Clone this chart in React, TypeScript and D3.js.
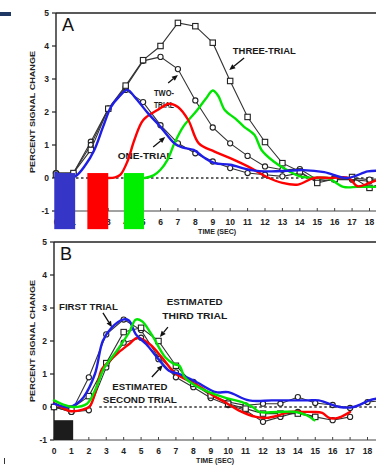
import React from "react";
import * as d3 from "d3";

// ---------- DATA ----------
const timeTicks = d3.range(0, 19);
const yTicks = [5, 4, 3, 2, 1, 0, -1];

// Panel A black series (t = 0..19)
const oneTrialA = [0.15, 0.15, 1.1, 2.1, 2.67, 2.3, 1.6, 1.05, 0.75, 0.5, 0.3, 0.15, 0.1, 0.05, 0.15, -0.1, -0.05, -0.05, -0.1, 0.0];
const twoTrialA = [0.15, 0.15, 1.0, 2.1, 2.75, 3.55, 3.67, 3.3, 2.35, 1.53, 1.05, 0.67, 0.35, 0.25, 0.27, -0.05, 0.0, 0.0, -0.05, 0.0];
const threeTrialA = [0.1, 0.15, 0.85, 2.1, 2.8, 3.57, 4.0, 4.7, 4.6, 4.1, 2.94, 1.85, 1.09, 0.45, 0.2, -0.15, -0.03, 0.03, -0.3, -0.1];

// Panel A coloured overlay curves [time, value]
const blueA: [number, number][] = [[0, 0.15], [0.6, 0.05], [1.1, 0.05], [1.7, 0.4], [2.2, 0.85], [2.7, 1.55], [3.15, 2.15], [3.6, 2.45], [4.1, 2.67], [4.6, 2.4], [5.3, 1.95], [6.0, 1.55], [6.8, 1.05], [7.3, 0.92], [7.9, 0.85], [8.5, 0.62], [9.1, 0.45], [10.0, 0.4], [11.2, 0.24], [12.3, 0.2], [13.3, 0.22], [14.2, 0.24], [15.4, 0.18], [16.7, 0.0], [17.9, 0.2], [18.5, 0.22]];
const redA: [number, number][] = [[3.0, 0.0], [3.4, 0.02], [3.7, 0.1], [4.1, 0.5], [4.5, 1.15], [5.0, 1.75], [5.8, 2.05], [6.5, 2.25], [7.0, 2.15], [7.6, 1.75], [8.2, 1.05], [9.1, 0.8], [10.0, 0.6], [11.2, 0.3], [12.1, 0.03], [13.0, -0.15], [13.9, -0.2], [14.8, 0.0], [15.8, 0.0], [16.8, 0.0], [17.3, -0.25], [18.0, -0.15], [18.5, -0.05]];
const greenA: [number, number][] = [[5.1, 0.0], [5.6, 0.08], [6.0, 0.25], [6.4, 0.55], [6.8, 1.05], [7.3, 1.55], [8.1, 2.05], [8.6, 2.4], [9.0, 2.65], [9.3, 2.5], [9.7, 2.05], [10.3, 1.8], [10.8, 1.55], [11.4, 1.3], [11.8, 0.85], [12.5, 0.5], [13.4, 0.2], [14.0, 0.05], [15.0, 0.0], [15.6, 0.0], [16.5, -0.27], [17.3, -0.27], [18.0, -0.27], [18.5, -0.27]];

// Panel A stimulus bars [start, end] in seconds; vertical span in % units
const barsA: { start: number; end: number; color: string }[] = [
  { start: -0.1, end: 1.1, color: "#3535c8" },
  { start: 1.8, end: 3.0, color: "#ff0000" },
  { start: 3.9, end: 5.05, color: "#00ee00" },
];
const barTop = 0.15;
const barBottom = -1.55;

// Panel B black series
const firstTrialB = [0, -0.15, 0.9, 2.2, 2.65, 2.33, 1.5, 1.05, 0.76, 0.36, 0.15, 0.05, 0.1, 0.1, 0.3, 0.12, 0.06, -0.03, 0.15, 0.2];
const secondTrialB = [0, -0.15, -0.1, 1.2, 1.95, 2.1, 1.45, 0.9, 0.6, 0.27, 0.06, -0.1, -0.45, -0.3, -0.15, -0.3, -0.4, -0.3];
const thirdTrialB = [0, -0.05, 0.33, 1.33, 2.27, 2.4, 2.0, 1.25, 0.7, 0.35, 0.1, -0.05, -0.2, -0.2, -0.2, -0.3];

// Panel B coloured overlay curves
const blueB: [number, number][] = [[0, 0.1], [0.5, 0.02], [0.9, 0.0], [1.3, 0.1], [1.7, 0.3], [2.35, 1.0], [2.8, 2.0], [3.3, 2.4], [3.95, 2.65], [4.3, 2.62], [4.7, 2.2], [5.3, 1.9], [6.0, 1.45], [6.6, 1.1], [7.2, 1.0], [8.2, 0.75], [9.3, 0.45], [10.0, 0.45], [11.2, 0.2], [12.5, 0.2], [13.5, 0.2], [14.6, 0.2], [15.2, 0.2], [16.4, 0.0], [17.2, 0.0], [18.1, 0.2], [18.5, 0.25]];
const redB: [number, number][] = [[0, 0.12], [0.4, 0.0], [0.9, -0.12], [1.65, -0.08], [2.05, 0.02], [2.35, 0.4], [2.75, 1.15], [3.1, 1.35], [3.7, 1.65], [4.3, 1.9], [4.8, 2.1], [5.5, 1.9], [6.2, 1.5], [6.9, 1.05], [7.4, 0.88], [8.2, 0.67], [9.1, 0.36], [9.9, 0.12], [10.6, -0.1], [11.6, -0.3], [12.2, -0.33], [12.8, -0.27], [13.5, -0.15], [14.3, -0.15], [14.9, -0.15], [15.4, -0.18], [15.8, -0.33], [16.3, -0.33], [17.0, -0.15]];
const greenB: [number, number][] = [[0, 0.2], [0.5, 0.08], [1.1, 0.0], [1.9, 0.1], [2.35, 0.5], [2.9, 1.2], [3.6, 1.7], [4.3, 2.25], [4.7, 2.65], [5.05, 2.6], [5.6, 2.2], [6.4, 1.5], [6.9, 1.3], [7.2, 1.25], [7.5, 0.9], [7.9, 0.72], [8.9, 0.45], [9.9, 0.27], [10.8, 0.15], [11.4, 0.0], [11.8, -0.15], [12.8, -0.15], [13.9, -0.15], [14.5, -0.25], [14.95, -0.4]];

// Panel B stimulus box
const stimB = { start: 0, end: 1.1, top: -0.4, bottom: -1 };

// ---------- LAYOUT ----------
const W = 376;
const H = 470;
const FONT = "'Liberation Sans', Arial, sans-serif";

type Ann = { lines: string[]; x: number; y: number; dy: number; widths: number[]; arrow: [number, number, number, number] };

const annA: Ann[] = [
  { lines: ["THREE-TRIAL"], x: 11.96, y: 3.85, dy: 0, widths: [63], arrow: [10.8, 3.64, 9.95, 3.27] },
  { lines: ["TWO-", "TRIAL"], x: 6.2, y: 2.58, dy: 0.37, widths: [20, 20], arrow: [6.44, 2.88, 7.0, 3.12] },
  { lines: ["ONE-TRIAL"], x: 5.12, y: 0.67, dy: 0, widths: [55], arrow: [5.58, 0.94, 6.27, 1.24] },
];
const annB: Ann[] = [
  { lines: ["FIRST TRIAL"], x: 1.98, y: 3.03, dy: 0, widths: [59], arrow: [2.81, 2.85, 3.33, 2.42] },
  { lines: ["ESTIMATED", "THIRD TRIAL"], x: 8.08, y: 3.18, dy: 0.42, widths: [56, 65], arrow: [6.54, 2.42, 6.08, 2.12] },
  { lines: ["ESTIMATED", "SECOND TRIAL"], x: 4.93, y: 0.61, dy: 0.4, widths: [55, 74], arrow: [5.62, 0.91, 6.25, 1.27] },
];

function Arrow({ x1, y1, x2, y2 }: { x1: number; y1: number; x2: number; y2: number }) {
  const ang = Math.atan2(y2 - y1, x2 - x1);
  const L = 6, Wd = 2.6;
  const bx = x2 - L * Math.cos(ang), by = y2 - L * Math.sin(ang);
  const px = -Math.sin(ang) * Wd, py = Math.cos(ang) * Wd;
  return (
    <g>
      <line x1={x1} y1={y1} x2={bx} y2={by} stroke="#111" strokeWidth={1.3} />
      <path d={`M${x2},${y2}L${bx + px},${by + py}L${bx - px},${by - py}Z`} fill="#111" />
    </g>
  );
}

function Panel({
  top, x0, letter, series, curves, ann, bars, stim, dashFrom,
}: {
  top: number; x0: number; letter: string;
  series: { vals: number[]; marker: "circle" | "square" }[];
  curves: { pts: [number, number][]; color: string }[];
  ann: Ann[];
  bars?: typeof barsA;
  stim?: typeof stimB;
  dashFrom: number;
}) {
  const x = d3.scaleLinear().domain([0, 18]).range([x0, x0 + 313.5]);
  const y = d3.scaleLinear().domain([-1, 5]).range([top + 198, top]);
  const lineGen = d3.line<number>().x((_, i) => x(i)).y((v) => y(v));
  const curveGen = d3.line<[number, number]>().x((d) => x(d[0])).y((d) => y(d[1])).curve(d3.curveCatmullRom.alpha(0.5));
  const left = x0;
  return (
    <g>
      {/* frame */}
      <line x1={left} y1={y(5)} x2={W} y2={y(5)} stroke="#222" strokeWidth={1.4} />
      <line x1={left} y1={y(5)} x2={left} y2={y(-1)} stroke="#222" strokeWidth={1.4} />
      <line x1={left} y1={y(-1)} x2={W} y2={y(-1)} stroke="#444" strokeWidth={1} />
      {yTicks.map((t) => (
        <g key={t}>
          <line x1={left - 4} x2={left} y1={y(t)} y2={y(t)} stroke="#222" strokeWidth={1.2} />
          <text x={left - 7} y={y(t)} dy="0.35em" textAnchor="end" fontSize={8.5} fontWeight="bold" fontFamily={FONT} fill="#222">{t}</text>
        </g>
      ))}
      {timeTicks.map((t) => (
        <g key={t}>
          <line x1={x(t)} x2={x(t)} y1={y(-1)} y2={y(-1) - 3} stroke="#444" strokeWidth={1} />
          <text x={x(t)} y={y(-1) + 11} dy="0.35em" textAnchor="middle" fontSize={8.5} fontWeight="bold" fontFamily={FONT} fill="#222">{t}</text>
        </g>
      ))}
      <text x={x(9.25)} y={y(-1) + 23} textAnchor="middle" fontSize={7.5} fontWeight="bold" fontFamily={FONT} fill="#222" textLength={38} lengthAdjust="spacingAndGlyphs">TIME (SEC)</text>
      <text transform={`translate(32,${y(2)}) rotate(-90)`} textAnchor="middle" dy="0.35em" fontSize={8} fontWeight="bold" fontFamily={FONT} fill="#222" textLength={122} lengthAdjust="spacingAndGlyphs">PERCENT SIGNAL CHANGE</text>
      <text x={left + 6} y={y(5) + 18} fontSize={18} fontFamily={FONT} fill="#111">{letter}</text>

      {/* zero line */}
      <line x1={x(dashFrom)} x2={W} y1={y(0)} y2={y(0)} stroke="#333" strokeWidth={1.4} strokeDasharray="2.5,2.5" />

      {/* black series */}
      {series.map((s, si) => (
        <g key={si}>
          <path d={lineGen(s.vals) || ""} fill="none" stroke="#333" strokeWidth={1.1} />
          {s.vals.map((v, i) =>
            s.marker === "circle" ? (
              <circle key={i} cx={x(i)} cy={y(v)} r={2.6} fill="#fff" stroke="#222" strokeWidth={1.1} />
            ) : (
              <rect key={i} x={x(i) - 2.7} y={y(v) - 2.7} width={5.4} height={5.4} fill="#fff" stroke="#222" strokeWidth={1.1} />
            )
          )}
        </g>
      ))}

      {/* annotations */}
      {ann.map((a, ai) => (
        <g key={ai}>
          {a.lines.map((l, li) => (
            <text key={li} x={x(a.x)} y={y(a.y - li * a.dy)} dy="0.35em" textAnchor="middle" fontSize={8.5} fontWeight="bold" fontFamily={FONT} fill="#1a1a1a" textLength={a.widths[li]} lengthAdjust="spacingAndGlyphs">{l}</text>
          ))}
          <Arrow x1={x(a.arrow[0])} y1={y(a.arrow[1])} x2={x(a.arrow[2])} y2={y(a.arrow[3])} />
        </g>
      ))}

      {stim && (
        <rect x={x(stim.start)} y={y(stim.top)} width={x(stim.end) - x(stim.start)} height={y(stim.bottom) - y(stim.top)} fill="#1c1c1c" />
      )}

      {/* coloured curves */}
      {curves.map((c, ci) => (
        <path key={ci} d={curveGen(c.pts) || ""} fill="none" stroke={c.color} strokeWidth={2.4} strokeLinejoin="round" strokeLinecap="round" />
      ))}

      {bars && bars.map((b, bi) => (
        <rect key={bi} x={x(b.start)} y={y(barTop)} width={x(b.end) - x(b.start)} height={y(barBottom) - y(barTop)} fill={b.color} />
      ))}
    </g>
  );
}

export default function App() {
  return (
    <svg width={W} height={H} style={{ position: "absolute", left: 0, top: 0, background: "#fff" }}>
      <rect x={0} y={0} width={W} height={H} fill="#fff" />
      <rect x={0} y={12} width={11} height={4} fill="#1f3864" />
      <line x1={4.5} x2={4.5} y1={458} y2={464} stroke="#333" strokeWidth={1} />
      <Panel
        top={13}
        x0={56}
        letter="A"
        series={[
          { vals: oneTrialA, marker: "circle" },
          { vals: twoTrialA, marker: "circle" },
          { vals: threeTrialA, marker: "square" },
        ]}
        curves={[
          { pts: greenA, color: "#00e600" },
          { pts: redA, color: "#ff0000" },
          { pts: blueA, color: "#1e1ee6" },
        ]}
        ann={annA}
        bars={barsA}
        dashFrom={0}
      />
      <Panel
        top={242}
        x0={54}
        letter="B"
        series={[
          { vals: firstTrialB, marker: "circle" },
          { vals: secondTrialB, marker: "circle" },
          { vals: thirdTrialB, marker: "square" },
        ]}
        curves={[
          { pts: redB, color: "#ff0000" },
          { pts: blueB, color: "#1e1ee6" },
          { pts: greenB, color: "#00e600" },
        ]}
        ann={annB}
        stim={stimB}
        dashFrom={2.6}
      />
    </svg>
  );
}
